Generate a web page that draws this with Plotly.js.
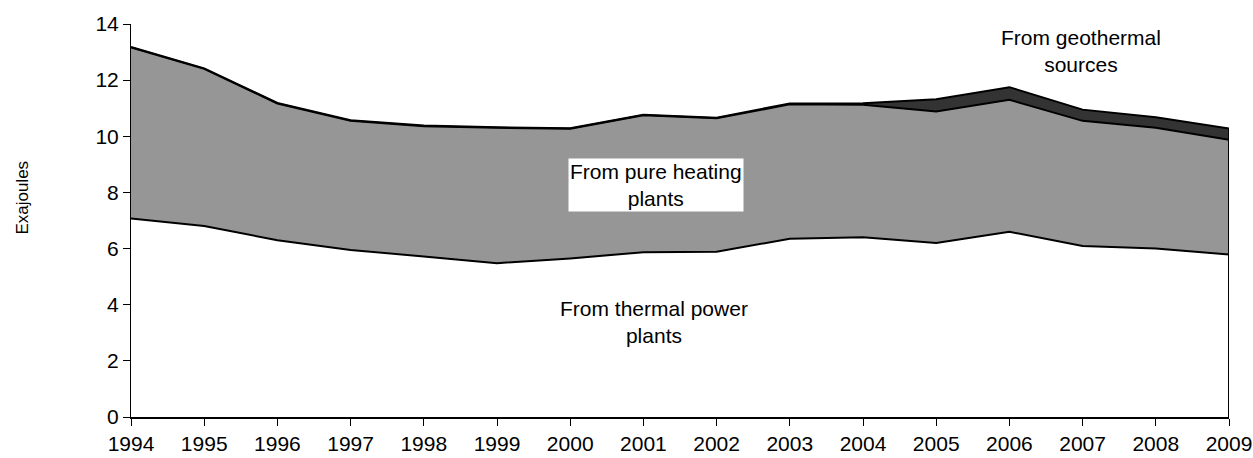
<!DOCTYPE html>
<html>
<head>
<meta charset="utf-8">
<script src="https://cdn.plot.ly/plotly-3.0.1.min.js"></script>
<style>
  html, body { margin: 0; padding: 0; background: #ffffff; }
  #chart { width: 1253px; height: 458px; }
</style>
</head>
<body>
<div id="chart"></div>
<script>
// ---- data (exajoules) ----
const years = [1994, 1995, 1996, 1997, 1998, 1999, 2000, 2001, 2002, 2003, 2004, 2005, 2006, 2007, 2008, 2009];
const thermalPower = [7.07, 6.80, 6.30, 5.95, 5.72, 5.48, 5.65, 5.87, 5.89, 6.35, 6.40, 6.20, 6.60, 6.09, 6.00, 5.79];
const pureHeating  = [6.09, 5.60, 4.87, 4.60, 4.64, 4.82, 4.62, 4.88, 4.75, 4.79, 4.72, 4.68, 4.70, 4.46, 4.30, 4.09];
const geothermal   = [0.02, 0.02, 0.02, 0.02, 0.02, 0.02, 0.02, 0.02, 0.02, 0.03, 0.06, 0.44, 0.45, 0.40, 0.38, 0.40];
const seriesNames = ["From thermal power plants", "From pure heating plants", "From geothermal sources"];
const yTicks = [0, 2, 4, 6, 8, 10, 12, 14];
const yAxisTitle = "Exajoules";

const FONT = '"Liberation Sans", Arial, sans-serif';
const lastIdx = years.length - 1;
const lastTotal = thermalPower[lastIdx] + pureHeating[lastIdx] + geothermal[lastIdx];

const traces = [
  {
    x: years, y: thermalPower, name: seriesNames[0], type: 'scatter', mode: 'lines',
    stackgroup: 'one', fillcolor: '#ffffff', line: {color: '#000000', width: 2}
  },
  {
    x: years, y: pureHeating, name: seriesNames[1], type: 'scatter', mode: 'lines',
    stackgroup: 'one', fillcolor: '#969696', line: {color: '#000000', width: 2}
  },
  {
    x: years, y: geothermal, name: seriesNames[2], type: 'scatter', mode: 'lines',
    stackgroup: 'one', fillcolor: '#333333', line: {color: '#000000', width: 2}
  },
  {
    // closing edge of the stacked areas at the last year
    x: [years[lastIdx], years[lastIdx]], y: [0, lastTotal], type: 'scatter', mode: 'lines',
    line: {color: '#000000', width: 2}, cliponaxis: false, hoverinfo: 'skip', showlegend: false
  }
];

const layout = {
  width: 1253, height: 458,
  margin: {l: 131, r: 24, t: 24, b: 41},
  paper_bgcolor: '#ffffff', plot_bgcolor: '#ffffff',
  showlegend: false,
  font: {family: FONT, size: 21, color: '#000000'},
  xaxis: {
    range: [years[0], years[lastIdx]],
    tickvals: years, ticktext: years.map(String),
    ticks: 'outside', ticklen: 7, tickcolor: '#000000', tickwidth: 1,
    showline: true, linecolor: '#000000', linewidth: 2,
    showgrid: false, zeroline: false,
    tickfont: {family: FONT, size: 21, color: '#000000'}
  },
  yaxis: {
    range: [0, 14],
    tickvals: yTicks, ticktext: yTicks.map(String),
    ticks: 'outside', ticklen: 7, tickcolor: '#000000', tickwidth: 1,
    showline: true, linecolor: '#000000', linewidth: 1,
    showgrid: false, zeroline: false,
    tickfont: {family: FONT, size: 21, color: '#000000'}
  },
  annotations: [
    {
      // y-axis title
      x: -0.0988, y: 0.557, xref: 'paper', yref: 'paper', showarrow: false,
      xanchor: 'center', yanchor: 'middle', textangle: -90,
      text: yAxisTitle,
      font: {family: FONT, size: 17, color: '#000000'}
    },
    {
      x: 2001.17, y: 8.28, xref: 'x', yref: 'y', showarrow: false,
      text: 'From pure heating<br>plants', bgcolor: '#ffffff', borderpad: 1,
      font: {family: FONT, size: 21, color: '#000000'}
    },
    {
      x: 2001.14, y: 3.40, xref: 'x', yref: 'y', showarrow: false,
      text: 'From thermal power<br>plants',
      font: {family: FONT, size: 21, color: '#000000'}
    },
    {
      x: 2006.98, y: 13.05, xref: 'x', yref: 'y', showarrow: false,
      text: 'From geothermal<br>sources',
      font: {family: FONT, size: 21, color: '#000000'}
    }
  ]
};

Plotly.newPlot('chart', traces, layout, {staticPlot: true, displayModeBar: false});
</script>
</body>
</html>
